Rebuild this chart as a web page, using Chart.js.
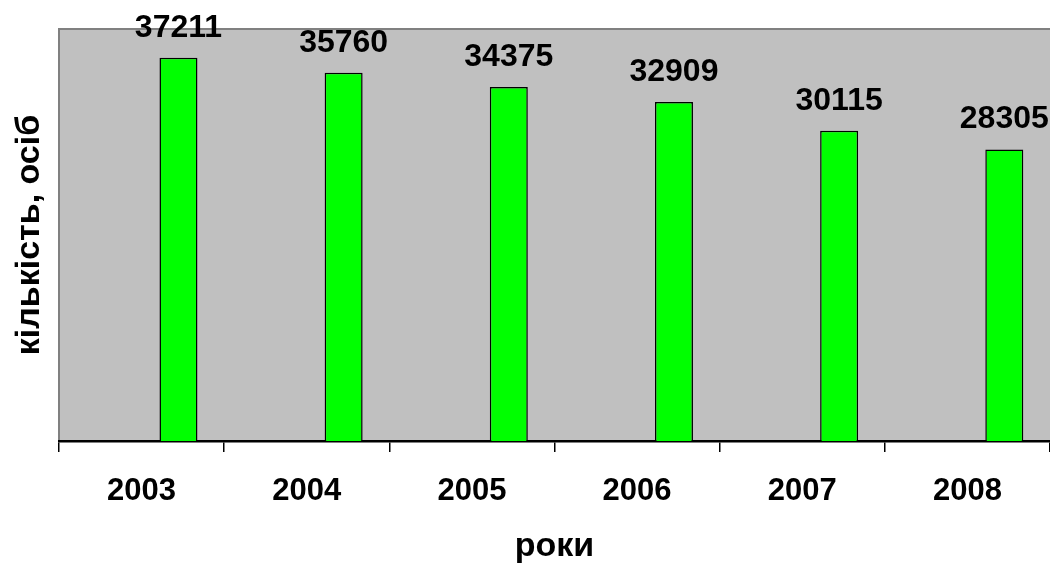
<!DOCTYPE html>
<html>
<head>
<meta charset="utf-8">
<script src="https://cdn.jsdelivr.net/npm/chart.js@4"></script>
<style>
  html, body { margin: 0; padding: 0; background: #ffffff; }
  #wrap { width: 1050px; height: 569px; }
</style>
</head>
<body>
<div id="wrap"><canvas id="c" width="1050" height="569"></canvas></div>
<script>
// Чисельність за роками
const years = ['2003', '2004', '2005', '2006', '2007', '2008'];
const persons = [37211, 35760, 34375, 32909, 30115, 28305];
// порожні ряди, що займають перші місця в кожній групі
const emptyA = [null, null, null, null, null, null];
const emptyB = [null, null, null, null, null, null];
const yTicks = [0, 40000];

const FONT = "'Liberation Sans', Arial, sans-serif";

// Сіре тло області побудови
const plotBackground = {
  id: 'plotBackground',
  beforeDraw(chart) {
    const { ctx, chartArea: a } = chart;
    ctx.save();
    ctx.fillStyle = '#c0c0c0';
    ctx.fillRect(a.left, a.top, a.right - a.left, a.bottom - a.top);
    ctx.strokeStyle = '#808080';
    ctx.lineWidth = 2;
    ctx.beginPath();
    ctx.moveTo(a.left, a.bottom);
    ctx.lineTo(a.left, a.top);
    ctx.lineTo(a.right, a.top);
    ctx.stroke();
    ctx.restore();
  }
};

// Підписи значень над стовпчиками
const valueLabels = {
  id: 'valueLabels',
  afterDatasetsDraw(chart) {
    const { ctx } = chart;
    const meta = chart.getDatasetMeta(2);
    ctx.save();
    ctx.font = "bold 32px " + FONT;
    ctx.fillStyle = '#000';
    ctx.textAlign = 'center';
    ctx.textBaseline = 'alphabetic';
    meta.data.forEach((bar, i) => {
      ctx.fillText(String(persons[i]), bar.x, bar.y - 21);
    });
    ctx.restore();
  }
};

new Chart(document.getElementById('c'), {
  type: 'bar',
  data: {
    labels: years,
    datasets: [
      { data: emptyA },
      { data: emptyB },
      {
        data: persons,
        backgroundColor: '#00ff00',
        borderColor: '#000000',
        borderWidth: 1.5
      }
    ]
  },
  options: {
    responsive: false,
    animation: false,
    events: [],
    layout: { padding: { top: 29, right: 0, left: 0, bottom: 0 } },
    datasets: { bar: { categoryPercentage: 0.67, barPercentage: 1.03 } },
    plugins: { legend: { display: false }, tooltip: { enabled: false } },
    scales: {
      x: {
        grid: {
          offset: true,
          drawOnChartArea: false,
          drawTicks: true,
          tickLength: 11,
          color: '#000000',
          lineWidth: 1.5
        },
        border: { display: true, color: '#000000', width: 2.5 },
        ticks: {
          color: '#000',
          padding: 21,
          font: { family: FONT, size: 31, weight: 'bold' }
        },
        title: {
          display: true,
          text: 'роки',
          color: '#000',
          padding: { top: 0, bottom: 2 },
          font: { family: FONT, size: 34, weight: 'bold' }
        },
        afterFit(scale) { scale.height = 128; }
      },
      y: {
        min: yTicks[0],
        max: yTicks[1],
        grid: { display: false },
        border: { display: false },
        ticks: { display: false },
        title: {
          display: true,
          text: 'кількість, осіб',
          color: '#000',
          padding: { top: 9, bottom: 0 },
          font: { family: FONT, size: 34, weight: 'bold' }
        },
        afterFit(scale) { scale.width = 59; }
      }
    }
  },
  plugins: [plotBackground, valueLabels]
});
</script>
</body>
</html>
